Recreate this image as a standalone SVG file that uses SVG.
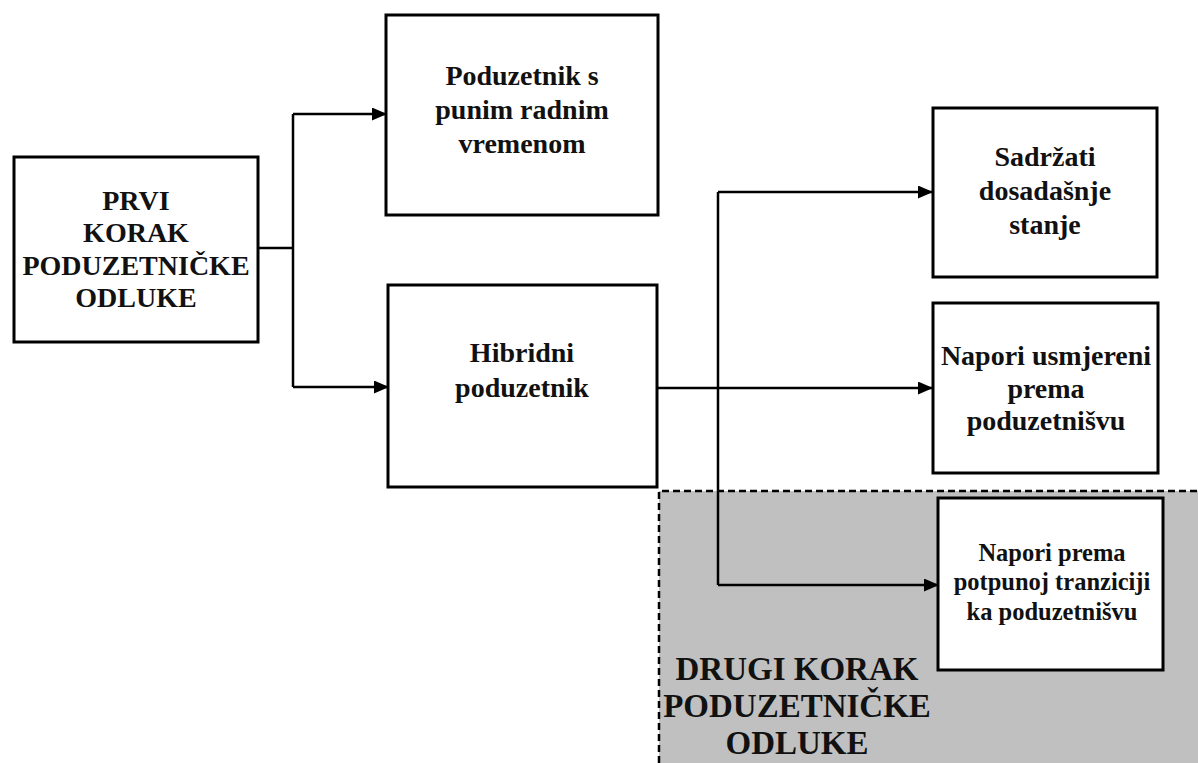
<svg xmlns="http://www.w3.org/2000/svg" width="1198" height="763" viewBox="0 0 1198 763">
<style>
.box{fill:#fff;stroke:#000;stroke-width:3}
.t{font-family:"Liberation Serif","Times New Roman",serif;font-weight:bold;fill:#111;text-anchor:middle}
.f28{font-size:28px}
.f24{font-size:24.5px}
.f32{font-size:33px}
.c{fill:none;stroke:#000;stroke-width:2.5}
</style>
<defs>
<marker id="ah" markerWidth="15" markerHeight="13" refX="14" refY="6.5" orient="auto" markerUnits="userSpaceOnUse">
<path d="M0,0 L15,6.5 L0,13 Z" fill="#000"/>
</marker>
</defs>
<rect width="1198" height="763" fill="#fff"/>
<g id="region2">
<rect x="659" y="491" width="545" height="280" fill="#c0c0c0"/>
<path d="M659 763 V491 H1198" fill="none" stroke="#000" stroke-width="2.5" stroke-dasharray="7 4"/>
<text class="t f32" x="797" y="680">DRUGI KORAK</text>
<text class="t f32" x="797" y="717">PODUZETNIČKE</text>
<text class="t f32" x="797" y="754">ODLUKE</text>
</g>
<g id="connectors">
<path class="c" d="M258 248 H293"/>
<path class="c" d="M293 114 V387"/>
<path class="c" d="M293 114 H386" marker-end="url(#ah)"/>
<path class="c" d="M293 387 H388" marker-end="url(#ah)"/>
<path class="c" d="M657 388 H932" marker-end="url(#ah)"/>
<path class="c" d="M718 192 V585"/>
<path class="c" d="M718 192 H932" marker-end="url(#ah)"/>
<path class="c" d="M718 585 H938" marker-end="url(#ah)"/>
</g>
<g id="n1">
<rect class="box" x="14" y="157" width="244" height="185"/>
<text class="t f28" x="136" y="210">PRVI</text>
<text class="t f28" x="136" y="242">KORAK</text>
<text class="t f28" x="136" y="275">PODUZETNIČKE</text>
<text class="t f28" x="136" y="307">ODLUKE</text>
</g>
<g id="n2">
<rect class="box" x="386" y="15" width="272" height="200"/>
<text class="t f28" x="522" y="85">Poduzetnik s</text>
<text class="t f28" x="522" y="119">punim radnim</text>
<text class="t f28" x="522" y="153">vremenom</text>
</g>
<g id="n3">
<rect class="box" x="388" y="285" width="269" height="202"/>
<text class="t f28" x="522" y="362">Hibridni</text>
<text class="t f28" x="522" y="397">poduzetnik</text>
</g>
<g id="n4">
<rect class="box" x="933" y="108" width="224" height="169"/>
<text class="t f28" x="1045" y="166">Sadržati</text>
<text class="t f28" x="1045" y="200">dosadašnje</text>
<text class="t f28" x="1045" y="234">stanje</text>
</g>
<g id="n5">
<rect class="box" x="933" y="303" width="225" height="170"/>
<text class="t f28" x="1046" y="365">Napori usmjereni</text>
<text class="t f28" x="1046" y="398">prema</text>
<text class="t f28" x="1046" y="430">poduzetnišvu</text>
</g>
<g id="n6">
<rect class="box" x="938" y="498" width="225" height="172"/>
<text class="t f24" x="1052" y="561">Napori prema</text>
<text class="t f24" x="1052" y="590">potpunoj tranziciji</text>
<text class="t f24" x="1052" y="620">ka poduzetnišvu</text>
</g>
</svg>
